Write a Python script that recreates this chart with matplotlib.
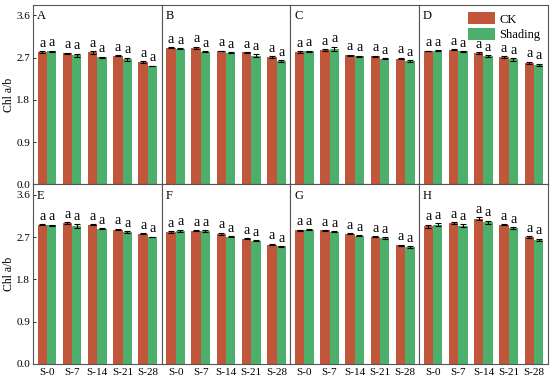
import numpy as np
import matplotlib
matplotlib.use("Agg")
from matplotlib import pyplot as plt

plt.rcParams['font.family'] = ['Liberation Serif', 'DejaVu Serif']

DAYS = ["S-0", "S-7", "S-14", "S-21", "S-28"]
PANELS = ["A", "B", "C", "D", "E", "F", "G", "H"]

# Chl a/b, CK and Shading, per panel
ck = [
    [2.82, 2.79, 2.81, 2.74, 2.60],
    [2.91, 2.91, 2.84, 2.81, 2.71],
    [2.82, 2.86, 2.75, 2.73, 2.68],
    [2.84, 2.87, 2.79, 2.71, 2.59],
    [2.96, 3.00, 2.96, 2.86, 2.77],
    [2.81, 2.83, 2.77, 2.66, 2.54],
    [2.84, 2.84, 2.77, 2.71, 2.52],
    [2.93, 3.00, 3.09, 2.96, 2.70],
]
shading = [
    [2.83, 2.75, 2.71, 2.66, 2.52],
    [2.89, 2.82, 2.80, 2.74, 2.63],
    [2.83, 2.89, 2.73, 2.68, 2.62],
    [2.85, 2.83, 2.73, 2.66, 2.55],
    [2.95, 2.93, 2.88, 2.80, 2.70],
    [2.83, 2.83, 2.71, 2.62, 2.50],
    [2.86, 2.81, 2.73, 2.68, 2.49],
    [2.96, 2.94, 3.01, 2.89, 2.64],
]
ck_err = [
    [0.02, 0.01, 0.03, 0.01, 0.02],
    [0.01, 0.02, 0.01, 0.01, 0.02],
    [0.02, 0.02, 0.01, 0.01, 0.02],
    [0.01, 0.01, 0.02, 0.02, 0.02],
    [0.01, 0.02, 0.01, 0.02, 0.01],
    [0.02, 0.01, 0.02, 0.01, 0.02],
    [0.02, 0.01, 0.01, 0.01, 0.02],
    [0.03, 0.02, 0.03, 0.01, 0.02],
]
sh_err = [
    [0.02, 0.03, 0.01, 0.04, 0.01],
    [0.01, 0.01, 0.01, 0.03, 0.02],
    [0.02, 0.04, 0.01, 0.01, 0.02],
    [0.01, 0.01, 0.02, 0.03, 0.02],
    [0.01, 0.04, 0.01, 0.02, 0.01],
    [0.03, 0.02, 0.01, 0.01, 0.01],
    [0.01, 0.01, 0.01, 0.02, 0.02],
    [0.03, 0.03, 0.04, 0.02, 0.02],
]

CK_COLOR = "#C0573B"
SH_COLOR = "#4CAF6B"


def main():
    fig, axes = plt.subplots(2, 4, figsize=(5.5, 3.81), dpi=100, sharey=True)
    fig.subplots_adjust(left=0.06, right=0.996, top=0.987, bottom=0.045,
                        wspace=0, hspace=0)
    x = np.arange(len(DAYS))
    w = 0.37

    for i, ax in enumerate(axes.flat):
        ax.bar(x - w / 2, ck[i], w, color=CK_COLOR, label="CK",
               yerr=ck_err[i], capsize=2.5,
               error_kw=dict(elinewidth=0.8, capthick=0.8, ecolor="black"))
        ax.bar(x + w / 2, shading[i], w, color=SH_COLOR, label="Shading",
               yerr=sh_err[i], capsize=2.5,
               error_kw=dict(elinewidth=0.8, capthick=0.8, ecolor="black"))
        for j in range(len(DAYS)):
            ax.text(x[j] - w / 2, ck[i][j] + ck_err[i][j] + 0.03, "a",
                    ha="center", va="bottom", fontsize=10)
            ax.text(x[j] + w / 2, shading[i][j] + sh_err[i][j] + 0.03, "a",
                    ha="center", va="bottom", fontsize=10)
        ax.set_xlim(-0.55, 4.55)
        ax.set_ylim(0, 3.82)
        ax.set_yticks([0.0, 0.9, 1.8, 2.7, 3.6])
        ax.text(0.03, 0.97, PANELS[i], transform=ax.transAxes,
                ha="left", va="top", fontsize=9)
        for s in ax.spines.values():
            s.set_color("#555555")
            s.set_linewidth(0.8)
        ax.tick_params(axis="both", labelsize=8, length=2, width=0.6,
                       direction="in")
        ax.tick_params(axis="y", pad=2)
        ax.tick_params(axis="x", length=0, pad=3)
        ax.set_xticks(x)
        if i < 4:
            ax.set_xticklabels([])
        else:
            ax.set_xticklabels(DAYS)
        if i % 4 == 0:
            ax.set_ylabel("Chl a/b", fontsize=8.5, labelpad=1)
            ax.set_yticklabels(["0.0", "0.9", "1.8", "2.7", "3.6"])
        else:
            ax.tick_params(axis="y", left=False)
        if i == 3:
            ax.legend(loc="upper right", fontsize=9, frameon=False,
                      handlelength=2.2, handleheight=1.1, borderaxespad=0.2,
                      labelspacing=0.2, handletextpad=0.3)

    plt.savefig("out.png", dpi=100)


if __name__ == '__main__':
    main()
